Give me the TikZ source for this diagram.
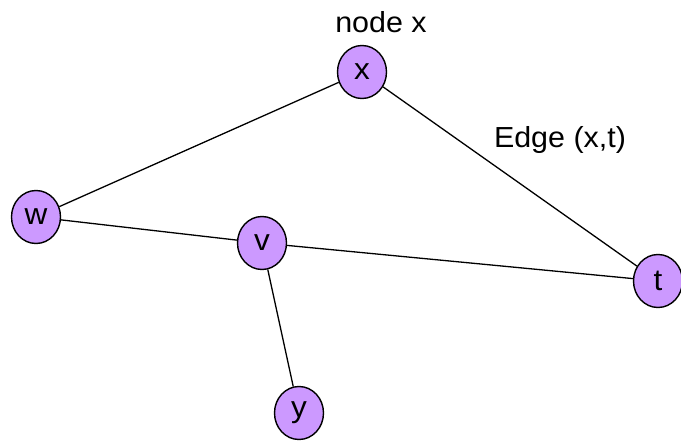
\documentclass[tikz,border=0pt]{standalone}
\usepackage{fontspec}
\setmainfont{Liberation Sans}
\usetikzlibrary{shapes.geometric}
\tikzset{
  vert/.style={ellipse, draw=black, line width=1.4pt, fill=vfill, minimum width=49pt, minimum height=53pt, inner sep=0pt, font=\fontsize{30}{30}\selectfont},
  edge/.style={draw=black, line width=1.3pt},
  lbl/.style={inner sep=0pt, anchor=base, font=\fontsize{29}{29}\selectfont}
}
\definecolor{vfill}{HTML}{CC99FF}
\begin{document}
\begin{tikzpicture}[x=1pt,y=-1pt]
\useasboundingbox (0,0) rectangle (681,441);
\node[vert] (x) at (362,72) {\scalebox{1.05}[1]{x}};
\node[vert] (w) at (36,217) {\scalebox{1.05}[1]{w}};
\node[vert] (v) at (262,243) {\scalebox{1.05}[1]{v}};
\node[vert] (t) at (658,281) {\scalebox{1.05}[1]{t}};
\node[vert] (y) at (299,413) {\scalebox{1.05}[1]{y}};
\draw[edge] (x) -- (w);
\draw[edge] (x) -- (t);
\draw[edge] (w) -- (v);
\draw[edge] (v) -- (t);
\draw[edge] (v) -- (y);
\node[lbl] (nx) at (381,33) {\scalebox{1.05}[1]{node x}};
\node[lbl] (ext) at (560,148) {\scalebox{1.05}[1]{Edge (x,t)}};
\end{tikzpicture}
\end{document}
